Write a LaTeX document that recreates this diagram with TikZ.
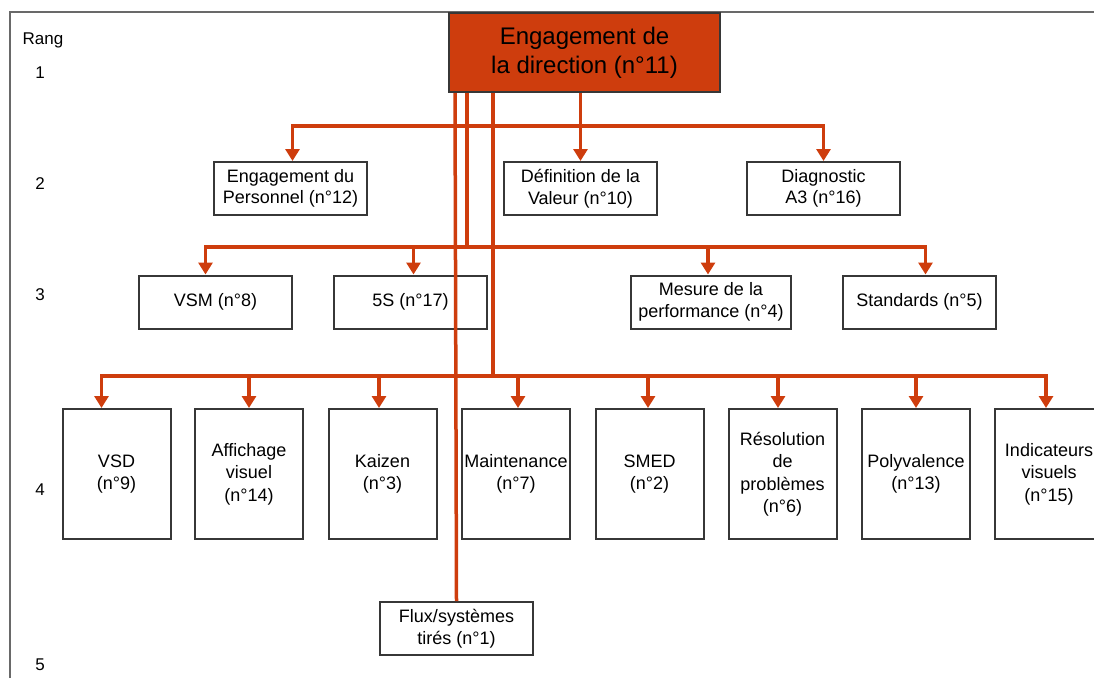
\documentclass[tikz,border=0pt]{standalone}
\usepackage{fontspec}
\setmainfont{Liberation Sans}
\usetikzlibrary{arrows.meta}
\definecolor{leanred}{RGB}{206,61,13}
\definecolor{boxgray}{RGB}{55,55,55}
\definecolor{framegray}{RGB}{105,105,105}
\tikzset{
  box/.style={draw=boxgray, line width=2pt, fill=white, align=center, inner sep=0pt,
    font=\fontsize{18}{21.5}\selectfont},
  smallbox/.style={box, minimum width=153pt, minimum height=53pt},
  tallbox/.style={box, minimum width=108pt, minimum height=130pt,
    font=\fontsize{18}{22.5}\selectfont},
  topbox/.style={draw=boxgray, line width=2pt, fill=leanred, align=center, inner sep=0pt,
    minimum width=271pt, minimum height=79pt, font=\fontsize{24}{29}\selectfont},
  conn/.style={draw=leanred, line width=3.5pt},
  tip/.style={-{Triangle[width=14pt,length=12pt]}},
  tips/.style={{Triangle[width=14pt,length=12pt]}-{Triangle[width=14pt,length=12pt]}},
  rang/.style={font=\fontsize{17}{20}\selectfont, inner sep=0pt}
}
\begin{document}
\begin{tikzpicture}[x=1pt,y=-1pt]
\useasboundingbox (0,0) rectangle (1094,678);
% frame
\draw[framegray, line width=1.5pt] (10,678) -- (10,12) -- (1094,12);
% rank labels
\node[rang] (rang) at (43,40) {Rang};
\node[rang] (r1) at (40,73) {1};
\node[rang] (r2) at (40,184) {2};
\node[rang] (r3) at (40,295) {3};
\node[rang] (r4) at (40,490) {4};
\node[rang] (r5) at (40,665) {5};
% nodes
\node[topbox] (top) at (584.5,52.5) {Engagement de\\la direction (n°11)};
\node[smallbox] (n12) at (290.5,188.5) {Engagement du\\Personnel (n°12)};
\node[smallbox] (n10) at (580.5,188.5) {Définition de la\\Valeur (n°10)};
\node[smallbox] (n16) at (823.5,188.5) {Diagnostic\\A3 (n°16)};
\node[smallbox] (vsm) at (215.5,302) {VSM (n°8)};
\node[smallbox] (s5) at (410.5,302) {5S (n°17)};
\node[smallbox, minimum width=160pt] (mes) at (711,302) {Mesure de la\\performance (n°4)};
\node[smallbox] (std) at (919.5,302) {Standards (n°5)};
\node[tallbox] (vsd) at (116.5,474) {VSD\\(n°9)};
\node[tallbox] (aff) at (249,474) {Affichage\\visuel\\(n°14)};
\node[tallbox] (kai) at (382.5,474) {Kaizen\\(n°3)};
\node[tallbox] (mai) at (516,474) {Maintenance\\(n°7)};
\node[tallbox] (smed) at (649.5,474) {SMED\\(n°2)};
\node[tallbox] (res) at (782.5,474) {Résolution\\de\\problèmes\\(n°6)};
\node[tallbox] (pol) at (916,474) {Polyvalence\\(n°13)};
\node[tallbox] (ind) at (1049,474) {Indicateurs\\visuels\\(n°15)};
\node[smallbox] (flux) at (456.5,628.5) {Flux/systèmes\\tirés (n°1)};
% bus coordinates
\coordinate (b2) at (580,126);
\coordinate (b3) at (467,247);
\coordinate (b4) at (493,376);
% rank 2
\draw[conn, tip] (top.south -| n10.north) -- (n10.north);
\draw[conn, tips] ([xshift=2pt]n12.north) |- (b2) -| (n16.north);
% rank 3
\draw[conn] (top.south -| b3) -- (b3);
\draw[conn, tips] ([xshift=-10pt]vsm.north) |- (b3) -| ([xshift=6pt]std.north);
\draw[conn, tip] ([xshift=3pt]s5.north |- b3) -- ([xshift=3pt]s5.north);
\draw[conn, tip] ([xshift=-3pt]mes.north |- b3) -- ([xshift=-3pt]mes.north);
% rank 4
\draw[conn] (top.south -| b4) -- (b4);
\draw[conn, tips] ([xshift=-15pt]vsd.north) |- (b4) -| ([xshift=-3pt]ind.north);
\draw[conn, tip] (aff.north |- b4) -- (aff.north);
\draw[conn, tip] ([xshift=-3.5pt]kai.north |- b4) -- ([xshift=-3.5pt]kai.north);
\draw[conn, tip] ([xshift=2pt]mai.north |- b4) -- ([xshift=2pt]mai.north);
\draw[conn, tip] ([xshift=-1.5pt]smed.north |- b4) -- ([xshift=-1.5pt]smed.north);
\draw[conn, tip] ([xshift=-4.5pt]res.north |- b4) -- ([xshift=-4.5pt]res.north);
\draw[conn, tip] (pol.north |- b4) -- (pol.north);
% rank 5
\draw[conn] ([xshift=-1.5pt]top.south -| flux.north) -- (flux.north);
\end{tikzpicture}
\end{document}
